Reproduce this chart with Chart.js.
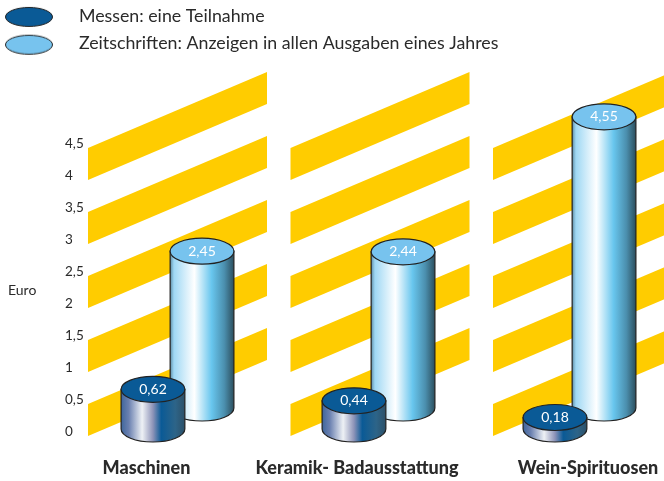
<!DOCTYPE html>
<html>
<head>
<meta charset="utf-8">
<style>
  html, body { margin: 0; padding: 0; background: #fff; overflow: hidden; }
  #wrap { width: 680px; height: 481px; }
</style>
</head>
<body>
<div id="wrap"><canvas id="chart"></canvas></div>
<script src="https://cdn.jsdelivr.net/npm/chart.js@4"></script>
<script>
const categories = ['Maschinen', 'Keramik- Badausstattung', 'Wein-Spirituosen'];
const messen = [0.62, 0.44, 0.18];
const zeitschriften = [2.45, 2.44, 4.55];
const seriesNames = ['Messen: eine Teilnahme', 'Zeitschriften: Anzeigen in allen Ausgaben eines Jahres'];
const yTicks = [0, 0.5, 1, 1.5, 2, 2.5, 3, 3.5, 4, 4.5];
const stripeStarts = [0, 1, 2, 3, 4];
const axisTitle = 'Euro';

const fontName = 'Lato, sans-serif';
const textColor = '#2a2a2a';
const darkTop = '#0a5a96';
const lightTop = '#77c3ee';

// ellipse picture for the legend, pushed left inside the box
function legendEllipse(color) {
  const c = document.createElement('canvas');
  c.width = 74;
  c.height = 24;
  const ctx = c.getContext('2d');
  ctx.beginPath();
  ctx.ellipse(26, 13, 23.5, 9.5, 0, 0, Math.PI * 2);
  ctx.fillStyle = color;
  ctx.fill();
  ctx.strokeStyle = '#222';
  ctx.lineWidth = 1;
  ctx.stroke();
  return c;
}

const legendImages = [legendEllipse(darkTop), legendEllipse(lightTop)];

function sideGradient(ctx, left, right, dark) {
  const g = ctx.createLinearGradient(left, 0, right, 0);
  if (dark) {
    g.addColorStop(0, '#3f669c');
    g.addColorStop(0.12, '#6a80b0');
    g.addColorStop(0.33, '#eef1f5');
    g.addColorStop(0.5, '#8d93b8');
    g.addColorStop(0.63, '#0a5a96');
    g.addColorStop(0.85, '#2d6488');
    g.addColorStop(1, '#2c5068');
  } else {
    g.addColorStop(0, '#5f8fa8');
    g.addColorStop(0.06, '#9fd8f4');
    g.addColorStop(0.38, '#ffffff');
    g.addColorStop(0.65, '#68c6ee');
    g.addColorStop(0.85, '#4b8fae');
    g.addColorStop(1, '#2c4f5e');
  }
  return g;
}

function drawCylinder(ctx, bar, lift, dark, label) {
  const rx = bar.width / 2;
  const ry = 13;
  const topY = bar.y - lift;
  const baseY = bar.base - lift;
  const left = bar.x - rx;
  const right = bar.x + rx;

  ctx.beginPath();
  ctx.moveTo(left, topY);
  ctx.lineTo(left, baseY);
  ctx.ellipse(bar.x, baseY, rx, ry, 0, Math.PI, 0, true);
  ctx.lineTo(right, topY);
  ctx.closePath();
  ctx.fillStyle = sideGradient(ctx, left, right, dark);
  ctx.fill();
  ctx.strokeStyle = '#222';
  ctx.lineWidth = 1.2;
  ctx.stroke();

  ctx.beginPath();
  ctx.ellipse(bar.x, topY, rx, ry, 0, 0, Math.PI * 2);
  ctx.fillStyle = dark ? darkTop : lightTop;
  ctx.fill();
  ctx.stroke();

  ctx.fillStyle = '#fff';
  ctx.font = '14px ' + fontName;
  ctx.textAlign = 'center';
  ctx.textBaseline = 'middle';
  ctx.fillText(label, bar.x, topY);
}

// yellow slanted bands behind each group
const stripesPlugin = {
  id: 'stripes',
  beforeDatasetsDraw(chart) {
    const { ctx, scales: { x, y } } = chart;
    ctx.save();
    ctx.fillStyle = '#ffcc00';
    categories.forEach((c, i) => {
      // panels are spaced a little wider than the groups
      const cx = x.getPixelForValue(i) + i * 1.5;
      const l = cx - 89.5;
      const r = cx + 89.5;
      const rise = (r - l) * 0.425;
      stripeStarts.forEach((v) => {
        const bottom = y.getPixelForValue(v) + 4;
        const top = y.getPixelForValue(v + 0.5) + 4;
        ctx.beginPath();
        ctx.moveTo(l, bottom);
        ctx.lineTo(l, top);
        ctx.lineTo(r, top - rise);
        ctx.lineTo(r, bottom - rise);
        ctx.closePath();
        ctx.fill();
      });
    });
    ctx.restore();
  },
};

const cylindersPlugin = {
  id: 'cylinders',
  afterDatasetsDraw(chart) {
    const { ctx } = chart;
    ctx.save();
    const backBars = chart.getDatasetMeta(1).data;
    const frontBars = chart.getDatasetMeta(0).data;
    backBars.forEach((bar, i) => drawCylinder(ctx, bar, 24, false, fmt(zeitschriften[i])));
    frontBars.forEach((bar, i) => drawCylinder(ctx, bar, 3, true, fmt(messen[i])));
    ctx.restore();
  },
};

// category names sit off the group centres in the original
const labelShift = [-31, -21.5, 8.5];
const textPlugin = {
  id: 'extraText',
  afterDraw(chart) {
    const { ctx, scales: { x } } = chart;
    ctx.save();
    ctx.fillStyle = textColor;
    ctx.textBaseline = 'middle';
    ctx.textAlign = 'center';
    ctx.font = '900 18px ' + fontName;
    categories.forEach((c, i) => ctx.fillText(c, x.getPixelForValue(i) + labelShift[i], 468));
    ctx.font = '14px ' + fontName;
    ctx.textAlign = 'left';
    ctx.fillText(axisTitle, 8, 290);
    ctx.restore();
  },
};

function fmt(v) {
  return String(v).replace('.', ',');
}

new Chart(document.getElementById('chart'), {
  type: 'bar',
  data: {
    labels: categories,
    datasets: [
      { label: seriesNames[0], data: messen, backgroundColor: 'transparent', categoryPercentage: 0.488, barPercentage: 1.3 },
      { label: seriesNames[1], data: zeitschriften, backgroundColor: 'transparent', categoryPercentage: 0.488, barPercentage: 1.3 },
    ],
  },
  options: {
    responsive: true,
    maintainAspectRatio: false,
    animation: false,
    layout: { padding: { left: 0, right: 0, top: 0, bottom: 49 } },
    scales: {
      x: { display: false },
      y: {
        min: 0,
        max: 4.5,
        afterBuildTicks(scale) {
          scale.ticks = yTicks.map((value) => ({ value }));
        },
        afterFit(scale) {
          scale.width = 77;
        },
        grid: { display: false },
        border: { display: false },
        ticks: {
          mirror: true,
          padding: -12,
          color: textColor,
          font: { family: fontName, size: 13.5 },
          callback: (v) => fmt(v),
        },
      },
    },
    plugins: {
      tooltip: { enabled: false },
      legend: {
        position: 'top',
        align: 'start',
        maxWidth: 560,
        onClick: null,
        labels: {
          usePointStyle: true,
          pointStyleWidth: 60,
          padding: 10,
          color: textColor,
          font: { family: fontName, size: 17.8 },
          generateLabels: () => seriesNames.map((text, i) => ({
            text,
            pointStyle: legendImages[i],
            fontColor: textColor,
            datasetIndex: i,
          })),
        },
      },
    },
  },
  plugins: [
    {
      id: 'legendGap',
      beforeInit(chart) {
        const fit = chart.legend.fit;
        const draw = chart.legend.draw;
        chart.legend.fit = function () {
          fit.call(this);
          this.height = 144;
        };
        // original legend sits tight against the top edge
        chart.legend.draw = function () {
          chart.ctx.save();
          chart.ctx.translate(0, -3);
          draw.call(this);
          chart.ctx.restore();
        };
      },
    },
    stripesPlugin,
    cylindersPlugin,
    textPlugin,
  ],
});
</script>
</body>
</html>
